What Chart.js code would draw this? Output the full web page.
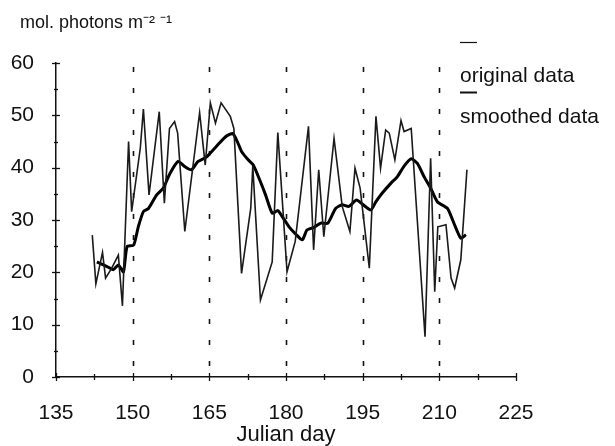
<!DOCTYPE html>
<html>
<head>
<meta charset="utf-8">
<script src="https://cdn.jsdelivr.net/npm/chart.js@4"></script>
<style>
    html, body { margin: 0; padding: 0; background: #fff; }
    #wrap { width: 615px; height: 446px; }
</style>
</head>
<body>
<div id="wrap"><canvas id="chart" width="615" height="446"></canvas></div>
<script>
// Original daily PAR values
const origDays = [142.1, 142.8, 144.1, 144.7, 145.9, 147.2, 148.0, 149.2, 149.8, 151.5, 152.1, 153.2,
    155.2, 156.2, 157.2, 158.2, 158.8, 160.2, 163.1, 164.2, 165.2, 166.2, 167.3, 169.1, 169.8,
    171.3, 173.1, 173.5, 175.0, 177.3, 178.4, 180.2, 181.8, 184.4, 185.4, 186.4, 187.4, 189.4,
    191.0, 192.5, 193.5, 194.5, 196.3, 197.6, 198.5, 199.5, 200.2, 201.3, 202.5, 203.1, 204.5,
    207.2, 208.3, 209.1, 209.7, 211.3, 212.3, 213.0, 214.2, 215.4];
const origValues = [27.1, 17.8, 23.8, 18.9, 20.8, 23.3, 13.6, 45.0, 31.6, 43.8, 51.2, 34.8,
    50.7, 33.2, 47.5, 48.8, 46.6, 27.8, 50.5, 40.5, 52.4, 48.5, 52.4, 49.8, 47.5,
    19.8, 32.2, 40.3, 14.7, 22.0, 46.7, 20.1, 25.9, 47.9, 24.3, 39.6, 26.8, 45.6,
    32.6, 27.8, 39.9, 36.1, 20.8, 49.8, 39.9, 47.2, 46.6, 41.5, 49.0, 46.9, 47.5,
    7.7, 41.8, 16.3, 28.7, 29.1, 18.9, 17.0, 22.4, 39.6];

// Smoothed curve
const smoothDays = [143.0, 145.0, 146.2, 147.2, 148.2, 148.9, 150.2, 151.1, 152.1, 153.1, 154.7, 156.0,
    157.3, 158.9, 160.2, 161.5, 162.8, 164.4, 166.4, 168.3, 169.6, 170.6, 171.3, 172.6, 173.6,
    175.0, 176.0, 177.3, 178.4, 179.3, 180.6, 181.9, 183.2, 184.1, 185.5, 186.8, 188.2, 189.7,
    191.0, 192.3, 193.8, 195.1, 196.6, 197.6, 198.8, 200.5, 201.8, 203.1, 204.5, 205.7, 207.0,
    208.3, 209.6, 211.6, 212.6, 214.2, 215.2];
const smoothValues = [22.0, 21.1, 20.5, 21.4, 20.1, 24.9, 25.2, 28.7, 31.6, 32.2, 34.8, 36.1,
    38.9, 41.2, 40.2, 39.6, 41.2, 42.0, 44.1, 46.0, 46.5, 44.7, 43.1, 41.5, 40.5,
    37.3, 34.8, 31.3, 31.8, 30.6, 28.7, 27.3, 26.2, 28.1, 28.6, 29.4, 29.4, 32.2,
    32.9, 32.6, 33.8, 32.9, 31.9, 33.5, 35.1, 37.0, 38.3, 40.3, 41.7, 40.8, 38.3,
    36.1, 33.5, 32.2, 30.0, 26.5, 27.2];

const seriesLabels = ['original data', 'smoothed data'];
const yAxisLabel = 'mol. photons m\u207B\u00B2 \u207B\u00B9';
const xAxisLabel = 'Julian day';
const markerDays = [150, 165, 180, 195, 210];

const FONT = 'Liberation Sans, Arial, Helvetica, sans-serif';
const INK = '#111';

function toPoints(xs, ys) {
    return xs.map((x, i) => ({ x: x, y: ys[i] }));
}

// dashed day markers, crossing ticks, unit label and legend
const decorations = {
    id: 'decorations',
    beforeDatasetsDraw(chart) {
        const { ctx, chartArea, scales } = chart;
        ctx.save();
        ctx.strokeStyle = INK;
        ctx.lineWidth = 1.6;
        ctx.setLineDash([5, 16]);
        markerDays.forEach(d => {
            const px = Math.round(scales.x.getPixelForValue(d)) + 0.5;
            ctx.beginPath();
            ctx.moveTo(px, chartArea.top + 4);
            ctx.lineTo(px, chartArea.bottom);
            ctx.stroke();
        });
        ctx.restore();
    },
    afterDraw(chart) {
        const { ctx, chartArea, scales } = chart;
        const x = scales.x, y = scales.y;
        ctx.save();
        ctx.strokeStyle = INK;
        ctx.lineWidth = 1.3;
        // y axis ticks, major every 10, minor every 5
        for (let v = y.min; v <= y.max; v += 5) {
            const py = Math.round(y.getPixelForValue(v)) + 0.5;
            const len = v % 10 === 0 ? 4 : 2;
            ctx.beginPath();
            ctx.moveTo(chartArea.left - len, py);
            ctx.lineTo(chartArea.left + len, py);
            ctx.stroke();
        }
        // x axis ticks, major every 15, minor every 7.5
        for (let v = x.min; v <= x.max; v += 7.5) {
            const px = Math.round(x.getPixelForValue(v)) + 0.5;
            const len = (v - x.min) % 15 === 0 ? 4 : 3;
            ctx.beginPath();
            ctx.moveTo(px, chartArea.bottom - len);
            ctx.lineTo(px, chartArea.bottom + len);
            ctx.stroke();
        }

        ctx.fillStyle = INK;
        ctx.font = '18px ' + FONT;
        ctx.textBaseline = 'middle';
        ctx.textAlign = 'left';
        ctx.fillText(yAxisLabel, 20, 23);

        // legend: short line sample above each label
        ctx.font = '21px ' + FONT;
        const lx = 460;
        const rows = [{ lineY: 42, textY: 76 }, { lineY: 92, textY: 117 }];
        chart.data.datasets.forEach((ds, i) => {
            const r = rows[i];
            ctx.lineWidth = ds.borderWidth > 2 ? 2 : 1.2;
            ctx.beginPath();
            ctx.moveTo(lx, r.lineY + 0.5);
            ctx.lineTo(lx + 17, r.lineY + 0.5);
            ctx.stroke();
            ctx.fillText(ds.label, lx, r.textY);
        });
        ctx.restore();
    }
};

const ctx = document.getElementById('chart').getContext('2d');
new Chart(ctx, {
    type: 'line',
    data: {
        datasets: [
            {
                label: seriesLabels[0],
                data: toPoints(origDays, origValues),
                borderColor: '#1a1a1a',
                borderWidth: 1.6,
                pointRadius: 0,
                tension: 0
            },
            {
                label: seriesLabels[1],
                data: toPoints(smoothDays, smoothValues),
                borderColor: '#000',
                borderWidth: 3,
                pointRadius: 0,
                tension: 0.2
            }
        ]
    },
    options: {
        responsive: false,
        animation: false,
        layout: { padding: { top: 63, right: 99, left: 0, bottom: 0 } },
        plugins: {
            legend: { display: false },
            tooltip: { enabled: false }
        },
        scales: {
            x: {
                type: 'linear',
                min: 135,
                max: 225,
                ticks: { stepSize: 15, color: INK, padding: 16, font: { family: FONT, size: 21 } },
                grid: { display: false },
                border: { color: INK, width: 1.5 },
                title: {
                    display: true,
                    text: xAxisLabel,
                    color: INK,
                    font: { family: FONT, size: 22, lineHeight: 1 },
                    padding: { top: 0, bottom: 0 }
                },
                afterFit(scale) { scale.height = 69; }
            },
            y: {
                min: 0,
                max: 60,
                ticks: { stepSize: 10, color: INK, padding: 14, font: { family: FONT, size: 21 } },
                grid: { display: false },
                border: { color: INK, width: 1.5 },
                afterFit(scale) { scale.width = 56; }
            }
        }
    },
    plugins: [decorations]
});
</script>
</body>
</html>
